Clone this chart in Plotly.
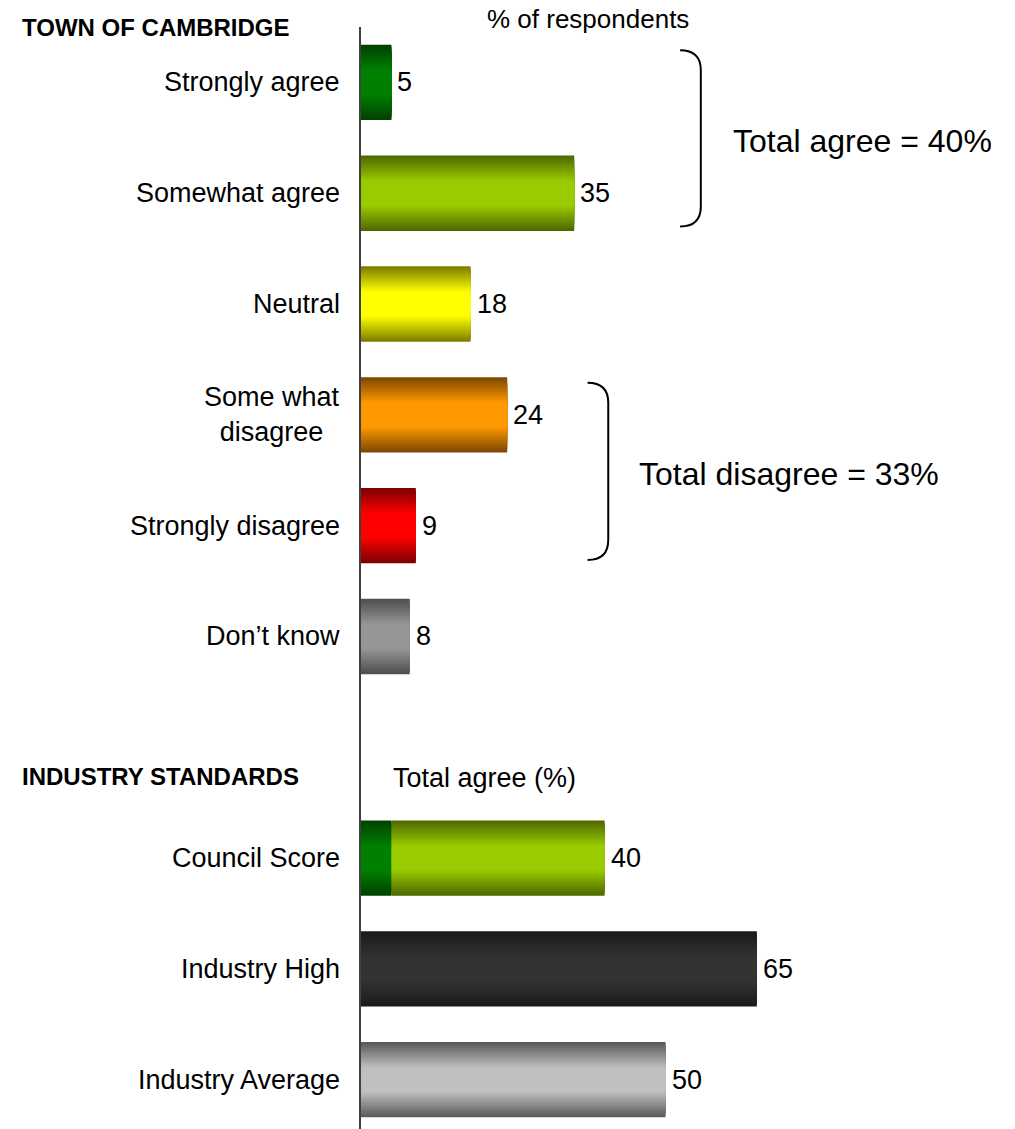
import plotly.graph_objects as go

# Survey responses (% of respondents)
responses = ["Strongly agree", "Somewhat agree", "Neutral",
             "Some what<br>disagree", "Strongly disagree", "Don\u2019t know"]
response_values = [5, 35, 18, 24, 9, 8]

# Industry benchmark: total agree (%)
industry = ["Council Score", "Industry High", "Industry Average"]
industry_values = [40, 65, 50]

# Gradient colours per bar: (edge, centre)
response_colors = [
    ("#004000", "#008000"),
    ("#4d6600", "#99cc00"),
    ("#7a7a00", "#ffff00"),
    ("#7a4600", "#ff9900"),
    ("#780000", "#ff0000"),
    ("#4d4d4d", "#969696"),
]
industry_colors = [
    None,                    # council score reuses the agree colours
    ("#1a1a1a", "#333333"),
    ("#575757", "#c0c0c0"),
]

FONT = "Liberation Sans, Arial, sans-serif"
BAR_W = 0.68
N_LAYERS = 18


def hex_to_rgb(h):
    h = h.lstrip("#")
    return tuple(int(h[i:i + 2], 16) for i in (0, 2, 4))


def mix(c_edge, c_mid, f):
    a, b = hex_to_rgb(c_edge), hex_to_rgb(c_mid)
    r = [round(a[k] + (b[k] - a[k]) * f) for k in range(3)]
    return "rgb(%d,%d,%d)" % tuple(r)


def brightness(d):
    # d: 0 at bar centre, 1 at bar edge; bright plateau in the middle
    return max(0.0, min(1.0, (1.0 - d) / 0.68))


# Row positions: responses first, one empty row, then the benchmarks
resp_pos = list(range(len(responses)))
ind_pos = [len(responses) + 1 + i for i in range(len(industry))]

# Bar segments: (row, base, length, colours)
segments = []
for p, v, c in zip(resp_pos, response_values, response_colors):
    segments.append((p, 0, v, c))
agree_parts = response_values[:2]
segments.append((ind_pos[0], 0, agree_parts[0], response_colors[0]))
segments.append((ind_pos[0], agree_parts[0], industry_values[0] - agree_parts[0],
                 response_colors[1]))
for p, v, c in zip(ind_pos[1:], industry_values[1:], industry_colors[1:]):
    segments.append((p, 0, v, c))

fig = go.Figure()
for i in range(N_LAYERS):
    d_mid = 1.0 - (i + 0.5) / N_LAYERS
    f = brightness(d_mid)
    fig.add_trace(go.Bar(
        orientation="h",
        y=[s[0] for s in segments],
        base=[s[1] for s in segments],
        x=[s[2] for s in segments],
        width=BAR_W * (1.0 - i / N_LAYERS),
        marker=dict(color=[mix(s[3][0], s[3][1], f) for s in segments],
                    line=dict(width=0)),
        hoverinfo="skip",
        showlegend=False,
    ))

annotations = []

# Value labels at the end of each bar
for p, v in zip(resp_pos + ind_pos, response_values + industry_values):
    annotations.append(dict(
        x=v, xref="x", y=p, yref="y", text=str(v), showarrow=False,
        xanchor="left", yanchor="middle", xshift=4,
        font=dict(family=FONT, size=27, color="black")))

# Category labels, right-aligned against the axis
for label, p in zip(responses + industry, resp_pos + ind_pos):
    annotations.append(dict(
        x=0, xref="x", y=p, yref="y", text=label, showarrow=False,
        xanchor="right", yanchor="middle", xshift=-19, align="center",
        font=dict(family=FONT, size=27, color="black")))

PLOT_L, PLOT_W, PLOT_T, PLOT_H = 361, 654, 27, 1102


def px_x(px):
    return (px - PLOT_L) / PLOT_W


def px_y(py):
    return 1 - (py - PLOT_T) / PLOT_H


annotations += [
    dict(x=px_x(20), xref="paper", y=px_y(28), yref="paper",
         text="<b>TOWN OF CAMBRIDGE</b>", showarrow=False,
         xanchor="left", yanchor="middle",
         font=dict(family=FONT, size=24, color="black")),
    dict(x=px_x(20), xref="paper", y=px_y(776), yref="paper",
         text="<b>INDUSTRY STANDARDS</b>", showarrow=False,
         xanchor="left", yanchor="middle",
         font=dict(family=FONT, size=24, color="black")),
    dict(x=px_x(485), xref="paper", y=px_y(19), yref="paper",
         text="% of respondents", showarrow=False,
         xanchor="left", yanchor="middle",
         font=dict(family=FONT, size=26, color="black")),
    dict(x=px_x(391), xref="paper", y=px_y(778), yref="paper",
         text="Total agree (%)", showarrow=False,
         xanchor="left", yanchor="middle",
         font=dict(family=FONT, size=27, color="black")),
]

total_agree = sum(response_values[:2])
total_disagree = sum(response_values[3:5])
annotations += [
    dict(x=60.7, xref="x", y=0.53, yref="y",
         text="Total agree = %d%%" % total_agree, showarrow=False,
         xanchor="left", yanchor="middle",
         font=dict(family=FONT, size=32, color="black")),
    dict(x=45.4, xref="x", y=3.53, yref="y",
         text="Total disagree = %d%%" % total_disagree, showarrow=False,
         xanchor="left", yanchor="middle",
         font=dict(family=FONT, size=32, color="black")),
]


def bracket(x0, x1, y0, y1, c=0.18):
    return dict(type="path", xref="x", yref="y",
                path="M %f,%f Q %f,%f %f,%f L %f,%f Q %f,%f %f,%f" % (
                    x0, y0, x1, y0, x1, y0 + c, x1, y1 - c, x1, y1, x0, y1),
                line=dict(color="black", width=2))


shapes = [
    bracket(52.4, 55.8, resp_pos[0] - 0.29, resp_pos[1] + 0.30),
    bracket(37.2, 40.6, resp_pos[3] - 0.29, resp_pos[4] + 0.31),
]

fig.update_layout(
    width=1015, height=1129,
    margin=dict(l=PLOT_L, r=1015 - PLOT_L - PLOT_W, t=PLOT_T, b=0),
    paper_bgcolor="white", plot_bgcolor="white",
    barmode="overlay",
    showlegend=False,
    xaxis=dict(range=[0, PLOT_W / 6.09], visible=False, fixedrange=True),
    yaxis=dict(range=[9.445, -0.5], showticklabels=False, showgrid=False,
               zeroline=False, showline=True, linecolor="#404040",
               linewidth=2, ticks="", fixedrange=True),
    annotations=annotations,
    shapes=shapes,
)

fig.write_html("out.html")
